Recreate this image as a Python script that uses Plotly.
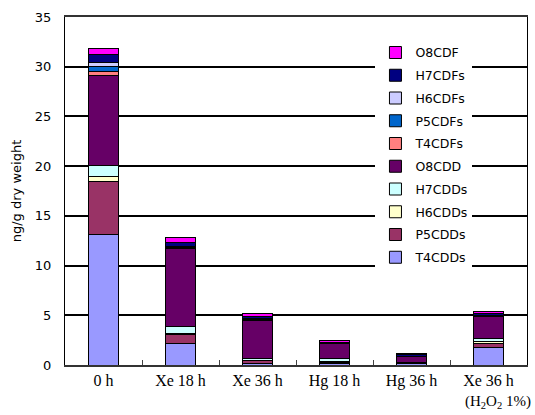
import plotly.graph_objects as go

categories = ["0 h", "Xe 18 h", "Xe 36 h", "Hg 18 h", "Hg 36 h", "Xe 36 h (H2O2 1%)"]
tick_labels = ["0 h", "Xe 18 h", "Xe 36 h", "Hg 18 h", "Hg 36 h", "Xe 36 h"]

series_names = ["T4CDDs", "P5CDDs", "H6CDDs", "H7CDDs", "O8CDD",
                "T4CDFs", "P5CDFs", "H6CDFs", "H7CDFs", "O8CDF"]

T4CDDs = [13.1, 2.2, 0.2, 0.2, 0.12, 1.8]
P5CDDs = [5.35, 0.85, 0.25, 0.1, 0.05, 0.4]
H6CDDs = [0.55, 0.1, 0.05, 0.05, 0.02, 0.15]
H7CDDs = [1.05, 0.75, 0.2, 0.35, 0.05, 0.3]
O8CDD = [9.1, 7.8, 3.8, 1.45, 0.6, 2.2]
T4CDFs = [0.4, 0.1, 0.05, 0.02, 0.02, 0.05]
P5CDFs = [0.45, 0.1, 0.05, 0.02, 0.02, 0.05]
H6CDFs = [0.4, 0.05, 0.05, 0.02, 0.02, 0.05]
H7CDFs = [0.8, 0.4, 0.25, 0.05, 0.15, 0.2]
O8CDF = [0.65, 0.5, 0.3, 0.2, 0.15, 0.15]

series_values = [T4CDDs, P5CDDs, H6CDDs, H7CDDs, O8CDD,
                 T4CDFs, P5CDFs, H6CDFs, H7CDFs, O8CDF]
colors = ["#9999FF", "#993366", "#FFFFCC", "#CCFFFF", "#660066",
          "#FF8080", "#0066CC", "#CCCCFF", "#000080", "#FF00FF"]

fig = go.Figure()
n = len(series_names)
for i, (name, vals, col) in enumerate(zip(series_names, series_values, colors)):
    fig.add_trace(go.Bar(
        x=categories, y=vals, name=name, legendgroup=name,
        legendrank=100 + (n - i),
        marker=dict(color=col, line=dict(color="black", width=1)),
    ))

sans = "DejaVu Sans"
serif = "Liberation Serif"

fig.update_layout(
    width=535, height=415,
    margin=dict(l=65, r=8, t=17, b=50),
    barmode="stack", bargap=0.6,
    plot_bgcolor="white", paper_bgcolor="white",
    showlegend=True,
    legend=dict(
        x=0.672, y=0.94, xanchor="left", yanchor="top",
        traceorder="grouped", bgcolor="white", borderwidth=0,
        font=dict(family=sans, size=12.5, color="black"),
        tracegroupgap=3.5, itemwidth=30,
    ),
    xaxis=dict(
        type="category", tickvals=categories, ticktext=tick_labels,
        tickson="boundaries", ticks="inside", ticklen=5, tickcolor="#444",
        tickfont=dict(family=serif, size=16, color="black"),
        showline=True, linecolor="#333", linewidth=2, mirror=True,
        showgrid=False,
    ),
    yaxis=dict(
        range=[0, 35], dtick=5, tick0=0,
        showgrid=True, gridcolor="black", gridwidth=1.5,
        showline=True, linecolor="black", linewidth=1, mirror=True,
        ticks="", ticklabelstandoff=10,
        tickfont=dict(family=sans, size=13, color="black"),
        title=dict(text="ng/g dry weight", font=dict(family=sans, size=13, color="black"),
                   standoff=10),
        zeroline=False,
    ),
    annotations=[dict(
        text="(H<sub>2</sub>O<sub>2</sub> 1%)", xref="paper", yref="paper",
        x=1.013, y=-0.105, xanchor="right", yanchor="middle", showarrow=False,
        font=dict(family=serif, size=15, color="black"),
    )],
)

fig.write_html("out.html")
